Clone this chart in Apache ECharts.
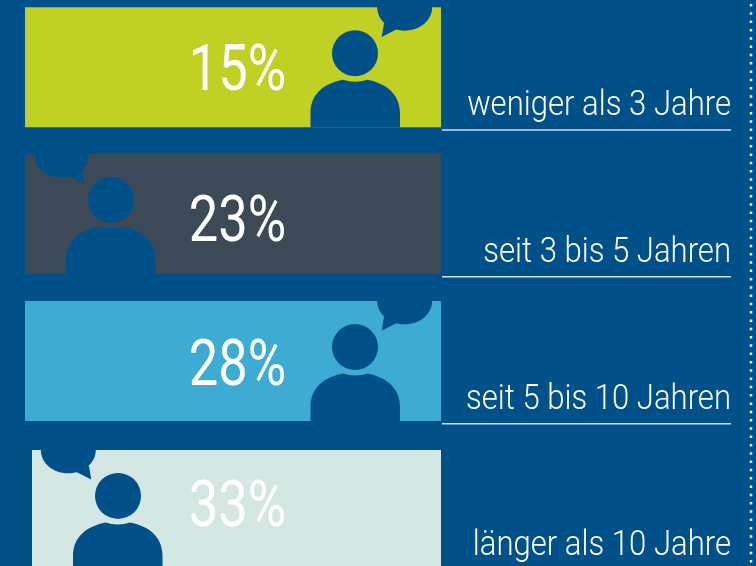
<!DOCTYPE html>
<html><head><meta charset="utf-8">
<style>html,body{margin:0;padding:0;background:#00508A}#c{width:756px;height:566px}</style>
<script src="https://cdn.jsdelivr.net/npm/echarts@6/dist/echarts.min.js"></script>
</head><body><div id="c"></div>
<script>
const categories = ['weniger als 3 Jahre','seit 3 bis 5 Jahren','seit 5 bis 10 Jahren','länger als 10 Jahre'];
const shares = [15,23,28,33];
const barColors = ['#C1D024','#3C4957','#3DABD2','#D5E7E3'];
const BG = '#00508A';

const rowNudge = [-0.3,-0.9,-1.2,0.5];
const textNudge = [6.7,11.5,8,0.5];
const labelNudge = [99,99,99,96];
const barLeft = [25,25,25,32];
const BAR_R = 441, BAR_H = 120, LABEL_R = 731, RULE_L = 442;
const bodyPath = 'M-44.5,74 L-44.5,60 C-44.5,40 -30,30 -12,26.5 Q0,30.5 12.5,26.5 C30,30 45,40 45,60 L45,74 Z';
const bubblePath = 'M22.2,-46.5 C22.2,-33 34,-22.7 49.7,-22.7 C65.4,-22.7 77.2,-33 77.2,-46.5 Z M29,-30 L26.7,-16.3 L41.7,-24 Z';

function renderItem(params, api){
  const i = api.value(0);
  const cy = api.coord([0,i])[1] + rowNudge[i];
  const top = cy - BAR_H/2;
  const left = barLeft[i];
  const flip = i % 2 === 1;
  const hx = flip ? left + 86 : BAR_R - 86;
  const hy = top + 46;
  return {type:'group', children:[
    {type:'rect', shape:{x:left,y:top,width:BAR_R-left,height:BAR_H}, style:{fill:barColors[i]}},
    {type:'group', x:hx, y:hy, scaleX: flip?-1:1, children:[
      {type:'circle', shape:{cx:0,cy:0,r:23}, style:{fill:BG}},
      {type:'path', shape:{pathData:bodyPath, x:-44.5,y:26.5,width:89.5,height:47.5}, style:{fill:BG}},
      {type:'path', shape:{pathData:bubblePath, x:22.2,y:-46.5,width:55,height:30.2}, style:{fill:BG}}
    ]},
    {type:'text', x:237.5, y:cy+textNudge[i], scaleX:0.82, style:{text:api.value(1)+'%', x:0,y:0, fill:'#fff',
      font:'400 64px Roboto', textAlign:'center', textVerticalAlign:'middle'}},
    {type:'text', x:LABEL_R, y:top+labelNudge[i], scaleX:0.888, style:{text:categories[i], x:0,y:0, fill:'#fff',
      font:'300 35px Roboto', textAlign:'right', textVerticalAlign:'middle'}},
    {type:'rect', shape:{x:RULE_L,y:top+122,width:LABEL_R-RULE_L,height:1.5}, style:{fill:'#CFE0EC'}}
  ]};
}

const chart = echarts.init(document.getElementById('c'));
chart.setOption({
  backgroundColor: BG,
  animation:false,
  grid:{left:0,top:-6,width:756,height:589,containLabel:false,outerBoundsMode:'none'},
  xAxis:{type:'value',min:0,max:100,show:false},
  yAxis:{type:'category',inverse:true,data:categories,show:false},
  graphic:[{type:'line',silent:true,shape:{x1:751,y1:4,x2:751,y2:566},
    style:{stroke:'#E8F0F6',lineWidth:2.5,lineDash:[2.5,5.8]}}],
  series:[{type:'custom',clip:false,silent:true,renderItem,
    encode:{x:1,y:0},
    data:shares.map((v,i)=>[i,v])}]
});
</script></body></html>
